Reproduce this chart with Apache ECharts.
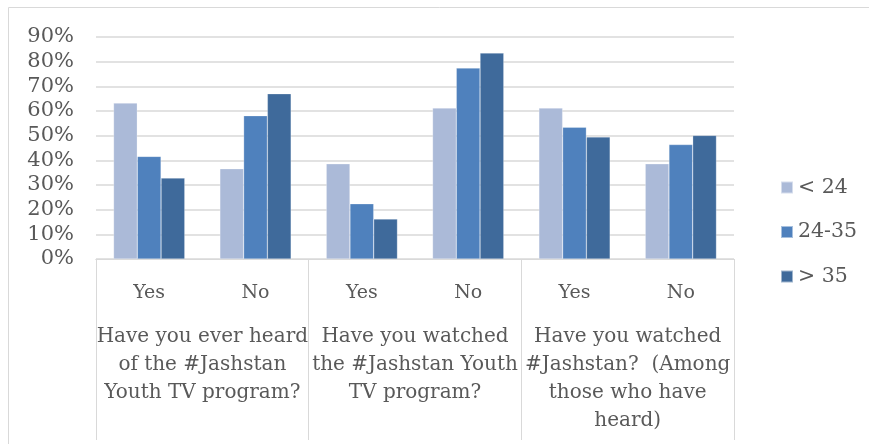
<!DOCTYPE html>
<html>
<head>
<meta charset="utf-8">
<script src="https://cdn.jsdelivr.net/npm/echarts@6/dist/echarts.min.js"></script>
<style>html,body{margin:0;padding:0;background:#fff;}#c{width:869px;height:444px;}</style>
</head>
<body>
<div id="c"></div>
<script>
const answers = ['Yes', 'No', 'Yes', 'No', 'Yes', 'No'];
const questions = [
  'Have you ever heard\nof the #Jashstan\nYouth TV program?',
  'Have you watched\nthe #Jashstan Youth\nTV program?',
  'Have you watched\n#Jashstan?  (Among\nthose who have\nheard)'
];
const seriesNames = ['< 24', '24-35', '> 35'];
const under24 = [0.632, 0.366, 0.386, 0.612, 0.612, 0.386];
const age24to35 = [0.416, 0.581, 0.224, 0.774, 0.534, 0.464];
const over35 = [0.328, 0.670, 0.162, 0.835, 0.495, 0.501];
const yTicks = [0, 0.9, 0.1];

const FONT = 'DejaVu Serif';
const TXT = '#595959';
const colors = ['#abbad8', '#4f81bd', '#3f6a9b'];

const chart = echarts.init(document.getElementById('c'));
chart.setOption({
  animation: false,
  textStyle: { fontFamily: FONT },
  color: colors,
  graphic: [{
    type: 'rect', silent: true,
    shape: { x: 8.5, y: 7.5, width: 900, height: 500 },
    style: { fill: 'none', stroke: '#d9d9d9', lineWidth: 1 }
  }],
  grid: { left: 96, right: 135, top: 37, bottom: 185 },
  legend: {
    orient: 'vertical', left: 775, top: 172,
    itemWidth: 12, itemHeight: 12, itemGap: 23.5,
    icon: 'rect',
    textStyle: { fontFamily: FONT, fontSize: 20.5, color: TXT },
    data: seriesNames
  },
  xAxis: [{
    type: 'category', data: answers, position: 'bottom',
    axisLine: { show: true, lineStyle: { color: '#d9d9d9', width: 1 } },
    axisTick: { show: false },
    axisLabel: { fontFamily: FONT, fontSize: 19, color: TXT, margin: 20, lineHeight: 28 }
  }, {
    type: 'category', data: questions, position: 'bottom',
    axisLine: { show: true, lineStyle: { color: '#d9d9d9', width: 1 } },
    axisTick: { show: true, length: 181, lineStyle: { color: '#d9d9d9', width: 1 } },
    axisLabel: { fontFamily: FONT, fontSize: 20, color: TXT, margin: 64, lineHeight: 28, interval: 0 }
  }],
  yAxis: {
    type: 'value', min: yTicks[0], max: yTicks[1], interval: yTicks[2],
    axisLine: { show: false }, axisTick: { show: false },
    splitLine: { lineStyle: { color: '#d9d9d9', width: 1.5 } },
    axisLabel: {
      fontFamily: FONT, fontSize: 21, color: TXT, margin: 22,
      formatter: v => Math.round(v * 100) + '%'
    }
  },
  series: [
    { name: seriesNames[0], type: 'bar', data: under24, barGap: '0%', barCategoryGap: '33%',
      itemStyle: { borderColor: 'rgba(255,255,255,0.5)', borderWidth: 0.5 } },
    { name: seriesNames[1], type: 'bar', data: age24to35, barGap: '0%', barCategoryGap: '33%',
      itemStyle: { borderColor: 'rgba(255,255,255,0.5)', borderWidth: 0.5 } },
    { name: seriesNames[2], type: 'bar', data: over35, barGap: '0%', barCategoryGap: '33%',
      itemStyle: { borderColor: 'rgba(255,255,255,0.5)', borderWidth: 0.5 } }
  ]
});
</script>
</body>
</html>
